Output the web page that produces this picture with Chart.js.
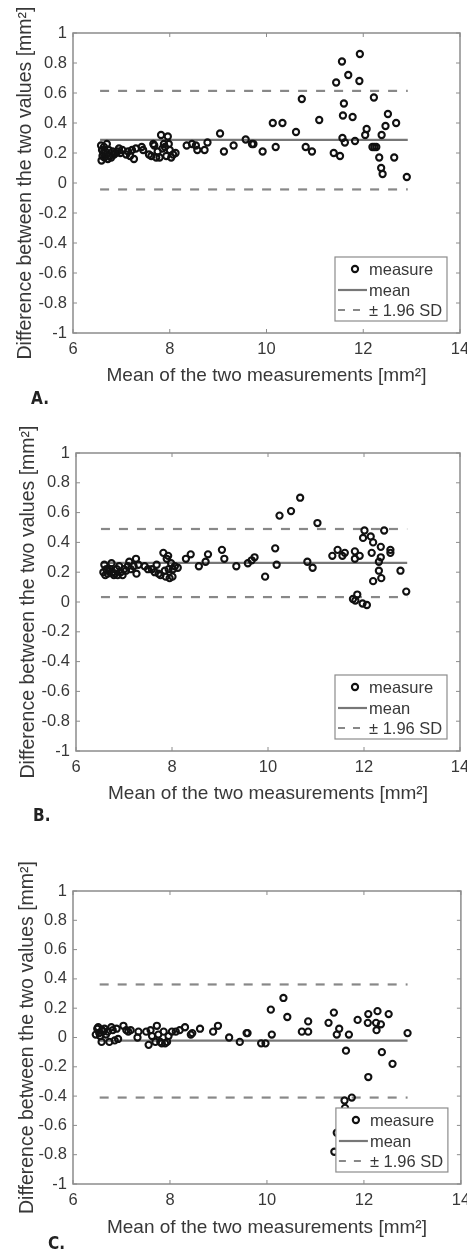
<!DOCTYPE html>
<html>
<head>
<meta charset="utf-8">
<script src="https://cdn.jsdelivr.net/npm/chart.js@4.4.1/dist/chart.umd.min.js"></script>
<style>
  html, body { margin: 0; padding: 0; background: #fff; }
  body { width: 467px; height: 1257px; position: relative; overflow: hidden; }
  .panel { position: absolute; left: 0; width: 467px; }
  .tag { position: absolute; font-family: "Liberation Sans Narrow", "DejaVu Sans Condensed", sans-serif; font-weight: bold; font-size: 17px; color: #222; line-height: 20px; }
</style>
</head>
<body>
<div class="panel" style="top:0;height:410px"><canvas id="chartA" width="467" height="410"></canvas></div>
<div class="panel" style="top:410px;height:420px"><canvas id="chartB" width="467" height="420"></canvas></div>
<div class="panel" style="top:830px;height:427px"><canvas id="chartC" width="467" height="427"></canvas></div>
<div class="tag" style="left:31px;top:388px">A.</div>
<div class="tag" style="left:33px;top:805px">B.</div>
<div class="tag" style="left:48px;top:1233px">C.</div>
<script>
// panel A - mean of the two measurements (x) and difference (y)
var aMeanX = [6.58, 6.59, 6.60, 6.61, 6.63, 6.64, 6.65, 6.67, 6.69, 6.70, 6.72, 6.74, 6.76, 6.79, 6.82, 6.85,
    6.88, 6.92, 6.95, 6.98, 7.02, 7.10, 7.14, 7.18, 7.22, 7.26, 7.30, 7.42, 7.45, 7.57, 7.62, 7.66, 7.68, 7.72,
    7.75, 7.79, 7.82, 7.85, 7.88, 7.90, 7.93, 7.96, 7.98, 8.00, 8.03, 8.07, 8.12, 8.35, 8.46, 8.54, 8.57, 8.72,
    8.78, 9.04, 9.12, 9.32, 9.57, 9.70, 9.73, 9.92, 10.13, 10.19, 10.33, 10.61, 10.73, 10.81, 10.94, 11.09,
    11.39, 11.44, 11.52, 11.56, 11.57, 11.58, 11.60, 11.62, 11.69, 11.78, 11.83, 11.92, 11.93, 12.04, 12.07,
    12.19, 12.22, 12.23, 12.27, 12.33, 12.37, 12.38, 12.40, 12.46, 12.51, 12.64, 12.68, 12.90];
var aDiff = [0.25, 0.15, 0.22, 0.18, 0.20, 0.24, 0.17, 0.21, 0.19, 0.26, 0.16, 0.22, 0.18, 0.17, 0.21, 0.19,
    0.20, 0.21, 0.23, 0.20, 0.22, 0.19, 0.21, 0.18, 0.22, 0.16, 0.23, 0.24, 0.22, 0.19, 0.18, 0.26, 0.25, 0.17,
    0.21, 0.17, 0.32, 0.23, 0.26, 0.24, 0.18, 0.31, 0.26, 0.22, 0.17, 0.19, 0.20, 0.25, 0.26, 0.25, 0.22, 0.22,
    0.27, 0.33, 0.21, 0.25, 0.29, 0.26, 0.26, 0.21, 0.40, 0.24, 0.40, 0.34, 0.56, 0.24, 0.21, 0.42,
    0.20, 0.67, 0.18, 0.81, 0.30, 0.45, 0.53, 0.27, 0.72, 0.44, 0.28, 0.68, 0.86, 0.32, 0.36,
    0.24, 0.57, 0.24, 0.24, 0.17, 0.10, 0.32, 0.06, 0.38, 0.46, 0.17, 0.40, 0.04];

// panel B
var bMeanX = [6.57, 6.59, 6.61, 6.63, 6.66, 6.68, 6.71, 6.74, 6.76, 6.79, 6.81, 6.85, 6.87, 6.90, 6.93, 6.97,
    7.00, 7.04, 7.08, 7.11, 7.14, 7.20, 7.25, 7.26, 7.30, 7.43, 7.50, 7.58, 7.64, 7.68, 7.72, 7.76, 7.82, 7.85,
    7.87, 7.89, 7.92, 7.93, 7.95, 7.98, 8.01, 8.02, 8.06, 8.12, 8.29, 8.39, 8.56, 8.70, 8.75, 9.04, 9.09, 9.34,
    9.58, 9.66, 9.72, 9.94, 10.15, 10.18, 10.24, 10.48, 10.67, 10.82, 10.93, 11.03, 11.34, 11.45, 11.55, 11.60,
    11.77, 11.81, 11.81, 11.82, 11.86, 11.91, 11.97, 11.98, 12.01, 12.06, 12.14, 12.16, 12.19, 12.19, 12.31,
    12.31, 12.35, 12.35, 12.36, 12.42, 12.55, 12.55, 12.76, 12.88];
var bDiff = [0.20, 0.25, 0.18, 0.22, 0.19, 0.21, 0.22, 0.26, 0.20, 0.18, 0.19, 0.22, 0.18, 0.24, 0.20, 0.18,
    0.22, 0.21, 0.24, 0.27, 0.22, 0.24, 0.29, 0.19, 0.25, 0.24, 0.22, 0.22, 0.20, 0.25, 0.19, 0.18, 0.33, 0.21,
    0.17, 0.29, 0.31, 0.22, 0.16, 0.26, 0.17, 0.22, 0.24, 0.23, 0.29, 0.32, 0.24, 0.27, 0.32, 0.35, 0.29, 0.24,
    0.26, 0.28, 0.30, 0.17, 0.36, 0.25, 0.58, 0.61, 0.70, 0.27, 0.23, 0.53, 0.31, 0.35, 0.31, 0.33,
    0.02, 0.34, 0.29, 0.01, 0.05, 0.31, -0.01, 0.43, 0.48, -0.02, 0.44, 0.33, 0.40, 0.14, 0.27,
    0.21, 0.37, 0.30, 0.16, 0.48, 0.35, 0.33, 0.21, 0.07];

// panel C
var cMeanX = [6.47, 6.50, 6.52, 6.54, 6.56, 6.59, 6.60, 6.62, 6.65, 6.68, 6.72, 6.75, 6.79, 6.82, 6.86, 6.90,
    6.93, 7.04, 7.10, 7.14, 7.19, 7.33, 7.35, 7.51, 7.56, 7.60, 7.63, 7.70, 7.73, 7.76, 7.80, 7.83, 7.87, 7.90,
    7.94, 7.97, 8.04, 8.12, 8.20, 8.31, 8.43, 8.46, 8.62, 8.89, 8.99, 9.22, 9.44, 9.58, 9.60, 9.88, 9.97,
    10.08, 10.10, 10.34, 10.42, 10.72, 10.85, 10.85, 11.27, 11.38, 11.39, 11.44, 11.44, 11.49, 11.60, 11.61,
    11.63, 11.69, 11.75, 11.87, 12.08, 12.09, 12.09, 12.25, 12.26, 12.28, 12.35, 12.37, 12.51, 12.59, 12.90];
var cDiff = [0.02, 0.06, 0.07, 0.03, 0.01, -0.03, 0.05, 0.04, 0.06, 0.02, 0.04, -0.03, 0.07, 0.05, -0.02, 0.06,
    -0.01, 0.08, 0.05, 0.04, 0.05, 0.00, 0.04, 0.04, -0.05, 0.05, 0.01, -0.03, 0.08, 0.02, -0.03, -0.04, 0.04, -0.04,
    -0.03, 0.01, 0.04, 0.04, 0.05, 0.07, 0.02, 0.03, 0.06, 0.04, 0.08, 0.00, -0.03, 0.03, 0.03, -0.04, -0.04,
    0.19, 0.02, 0.27, 0.14, 0.04, 0.11, 0.04, 0.10, 0.17, -0.78, 0.02, -0.65, 0.06, -0.43, -0.48,
    -0.09, 0.02, -0.41, 0.12, 0.10, 0.16, -0.27, 0.10, 0.05, 0.18, 0.09, -0.10, 0.16, -0.18, 0.03];

// bias and limits of agreement for A, B, C
var meanDiff = [0.287, 0.262, -0.022];
var upperLoA = [0.614, 0.490, 0.362];
var lowerLoA = [-0.043, 0.033, -0.410];
var lineStart = [6.56, 6.52, 6.55];
var lineEnd = [12.92, 12.90, 12.90];

var legendLabels = ['measure', 'mean', '\u00b1 1.96 SD'];
var xTitle = 'Mean of the two measurements [mm\u00b2]';
var yTitle = 'Difference between the two values [mm\u00b2]';

var FONT = '"Liberation Sans", Arial, sans-serif';
var TEXT = '#383838';

// MATLAB style box, inward ticks and legend box
var matlabFrame = {
    id: 'matlabFrame',
    afterDatasetsDraw: function(chart) {
        var ctx = chart.ctx, a = chart.chartArea;
        var xs = chart.scales.x, ys = chart.scales.y;
        ctx.save();
        ctx.strokeStyle = '#8c8c8c';
        ctx.lineWidth = 1.5;
        ctx.strokeRect(a.left, a.top, a.right - a.left, a.bottom - a.top);
        ctx.lineWidth = 1;
        ctx.beginPath();
        xs.ticks.forEach(function(t) {
            var px = xs.getPixelForValue(t.value);
            ctx.moveTo(px, a.bottom); ctx.lineTo(px, a.bottom - 4);
            ctx.moveTo(px, a.top); ctx.lineTo(px, a.top + 4);
        });
        ys.ticks.forEach(function(t) {
            var py = ys.getPixelForValue(t.value);
            ctx.moveTo(a.left, py); ctx.lineTo(a.left + 4, py);
            ctx.moveTo(a.right, py); ctx.lineTo(a.right - 4, py);
        });
        ctx.stroke();

        // legend, lower right inside the axes
        var ds = chart.data.datasets;
        var w = 112, h = 64;
        var bx = a.right - 13 - w, by = a.bottom - 12 - h;
        ctx.fillStyle = '#fff';
        ctx.fillRect(bx, by, w, h);
        ctx.strokeStyle = '#8c8c8c';
        ctx.lineWidth = 1.2;
        ctx.strokeRect(bx, by, w, h);
        var rows = [by + 12, by + 33, by + 53];
        // marker
        ctx.beginPath();
        ctx.arc(bx + 20, rows[0], ds[0].pointRadius, 0, Math.PI * 2);
        ctx.strokeStyle = ds[0].borderColor;
        ctx.lineWidth = ds[0].pointBorderWidth;
        ctx.stroke();
        // solid line
        ctx.beginPath();
        ctx.strokeStyle = ds[1].borderColor;
        ctx.lineWidth = ds[1].borderWidth;
        ctx.moveTo(bx + 3, rows[1]); ctx.lineTo(bx + 32, rows[1]);
        ctx.stroke();
        // dashed line
        ctx.beginPath();
        ctx.strokeStyle = ds[2].borderColor;
        ctx.lineWidth = ds[2].borderWidth;
        ctx.setLineDash([7, 8]);
        ctx.moveTo(bx + 3, rows[2]); ctx.lineTo(bx + 32, rows[2]);
        ctx.stroke();
        ctx.setLineDash([]);
        ctx.fillStyle = TEXT;
        ctx.font = '16.5px ' + FONT;
        ctx.textBaseline = 'middle';
        ctx.textAlign = 'left';
        for (var i = 0; i < 3; i++) {
            ctx.fillText(legendLabels[i], bx + 34, rows[i] + 1);
        }
        ctx.restore();
    }
};

function drawPanel(canvasId, k, xs, ys, g) {
    var pts = xs.map(function(x, i) { return {x: x, y: ys[i]}; });
    var ctx = document.getElementById(canvasId);
    new Chart(ctx, {
        type: 'scatter',
        data: {
            datasets: [{
                label: legendLabels[0],
                data: pts,
                pointRadius: 3.1,
                pointBorderWidth: 2.1,
                borderColor: '#111',
                pointBorderColor: '#111',
                pointBackgroundColor: 'rgba(0,0,0,0)',
                showLine: false
            }, {
                label: legendLabels[1],
                data: [{x: lineStart[k], y: meanDiff[k]}, {x: lineEnd[k], y: meanDiff[k]}],
                showLine: true,
                pointRadius: 0,
                borderColor: '#777',
                borderWidth: 2.2
            }, {
                label: legendLabels[2],
                data: [{x: lineStart[k], y: upperLoA[k]}, {x: lineEnd[k], y: upperLoA[k]}],
                showLine: true,
                pointRadius: 0,
                borderColor: '#888',
                borderWidth: 2.2,
                borderDash: [9, 9]
            }, {
                label: legendLabels[2],
                data: [{x: lineStart[k], y: lowerLoA[k]}, {x: lineEnd[k], y: lowerLoA[k]}],
                showLine: true,
                pointRadius: 0,
                borderColor: '#888',
                borderWidth: 2.2,
                borderDash: [9, 9]
            }]
        },
        options: {
            responsive: false,
            animation: false,
            devicePixelRatio: 1,
            layout: {
                padding: {top: g.top, right: 467 - g.right, left: g.padLeft, bottom: g.h - g.bottom - g.xHeight}
            },
            plugins: {
                legend: {display: false},
                tooltip: {enabled: false}
            },
            scales: {
                x: {
                    type: 'linear',
                    min: 6, max: 14,
                    border: {display: false},
                    grid: {display: false, drawTicks: false},
                    ticks: {stepSize: 2, padding: 7, color: TEXT, font: {family: FONT, size: 16.5}},
                    title: {display: true, text: xTitle, color: TEXT, font: {family: FONT, size: 19}},
                    afterFit: function(scale) {
                        scale.height = g.xHeight;
                        scale.paddingLeft = 0;
                        scale.paddingRight = 0;
                    }
                },
                y: {
                    min: -1, max: 1,
                    border: {display: false},
                    grid: {display: false, drawTicks: false},
                    ticks: {
                        stepSize: 0.2, padding: 6, color: TEXT, font: {family: FONT, size: 16.5},
                        callback: function(v) { return String(parseFloat(v.toFixed(1))); }
                    },
                    title: {display: true, text: yTitle, color: TEXT, font: {family: FONT, size: 19.5}},
                    afterFit: function(scale) {
                        scale.width = g.left - g.padLeft;
                    }
                }
            }
        },
        plugins: [matlabFrame]
    });
}

drawPanel('chartA', 0, aMeanX, aDiff, {h: 410, left: 73, right: 460, top: 33, bottom: 333, xHeight: 58, padLeft: 10});
drawPanel('chartB', 1, bMeanX, bDiff, {h: 420, left: 76, right: 460, top: 43, bottom: 341, xHeight: 58, padLeft: 13});
drawPanel('chartC', 2, cMeanX, cDiff, {h: 427, left: 73, right: 461, top: 61, bottom: 354, xHeight: 59, padLeft: 12});
</script>
</body>
</html>
